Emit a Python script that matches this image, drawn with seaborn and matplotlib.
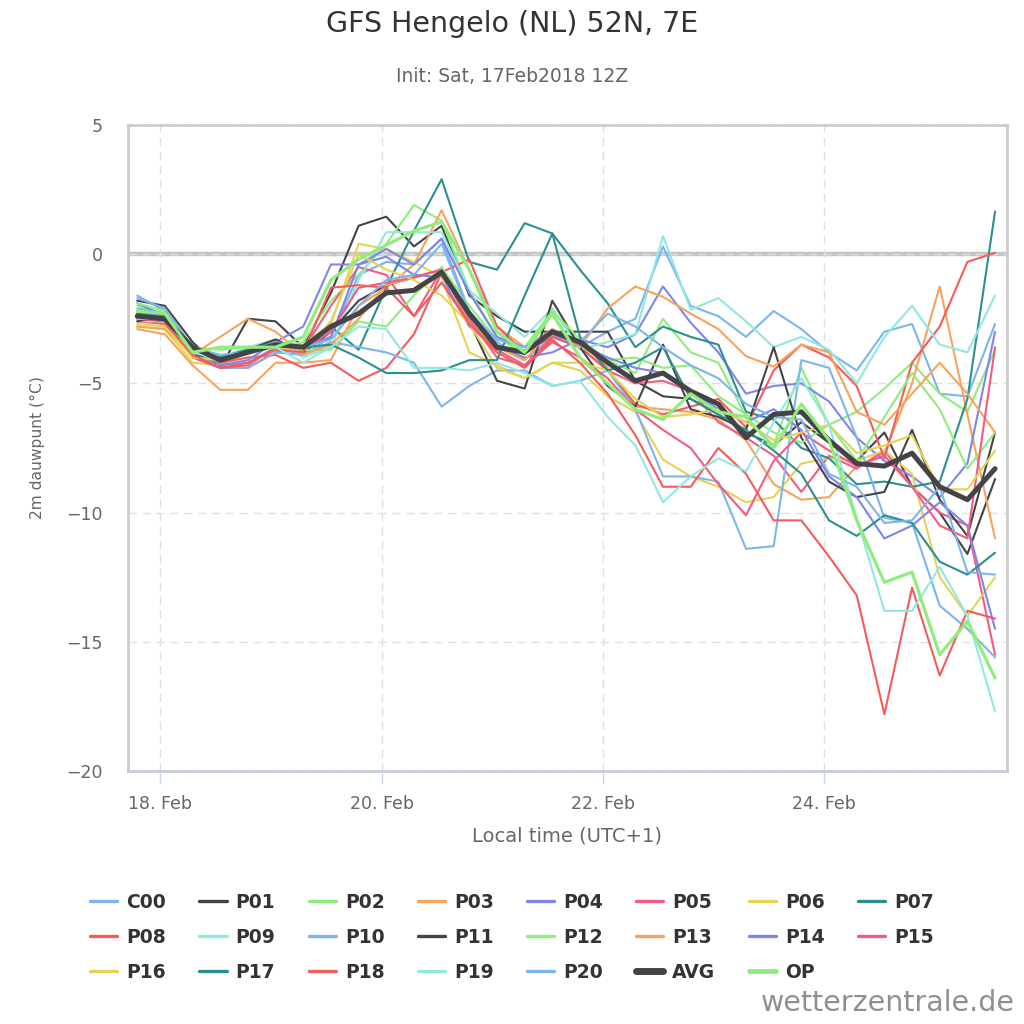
import matplotlib
matplotlib.use("Agg")
import matplotlib.pyplot as plt
import matplotlib.dates as mdates
from matplotlib.lines import Line2D
import pandas as pd
import seaborn as sns

# 6-hourly steps, local time (UTC+1), GFS run of 17 Feb 2018 12Z
times = pd.date_range("2018-02-17 19:00", periods=32, freq="6h")

# 2m dew point (deg C) per ensemble member
c00 = [-1.6, -2.2, -3.8, -4.3, -4.2, -3.6, -3.9, -3.2, -0.8, -0.3, -0.4, 0.6, -2.2, -3.4, -4.1, -3.2,
       -3.6, -3.0, -2.5, 0.3, -2.0, -2.4, -3.2, -2.2, -2.9, -3.8, -4.5, -3.0, -2.7, -5.4, -5.5, -2.7]
p01 = [-1.8, -2.0, -3.4, -4.4, -2.5, -2.6, -3.6, -1.5, 1.1, 1.45, 0.3, 1.1, -1.6, -2.4, -3.0, -3.0,
       -3.0, -3.0, -4.9, -5.5, -5.6, -6.2, -6.9, -7.4, -6.5, -7.3, -8.0, -6.9, -9.0, -10.0, -11.6, -8.7]
p02 = [-2.0, -2.3, -3.7, -3.9, -3.8, -3.6, -3.4, -1.8, -0.8, 0.4, 1.9, 1.3, -1.4, -3.2, -3.9, -2.1,
       -3.6, -4.1, -4.6, -2.5, -3.8, -4.2, -6.3, -7.4, -4.4, -6.6, -6.1, -5.2, -4.2, -5.4, -6.1, -3.7]
p03 = [-2.9, -3.1, -4.3, -5.25, -5.25, -4.2, -4.2, -4.1, -2.0, -1.3, -0.4, 1.7, -0.6, -2.8, -3.6, -2.9,
       -3.4, -4.4, -5.9, -6.0, -6.1, -6.4, -7.2, -8.9, -9.5, -9.4, -8.2, -7.7, -5.0, -1.25, -6.2, -11.0]
p04 = [-1.9, -2.4, -3.7, -4.1, -3.8, -3.4, -2.8, -0.4, -0.4, -0.1, -0.8, -0.9, -2.8, -3.6, -4.0, -3.8,
       -3.3, -3.6, -3.1, -1.25, -2.65, -3.8, -5.4, -5.1, -5.0, -5.7, -7.1, -8.0, -8.6, -9.4, -8.1, -3.0]
p05 = [-2.3, -2.4, -3.9, -4.4, -4.4, -3.8, -3.7, -2.0, -0.5, -0.8, -2.4, -0.6, -2.7, -3.7, -4.3, -3.2,
       -3.6, -4.5, -5.0, -4.9, -5.3, -6.5, -7.1, -7.8, -9.2, -7.8, -8.3, -7.6, -9.0, -10.0, -10.5, -15.5]
p06 = [-2.8, -2.9, -4.2, -4.3, -3.8, -3.6, -3.5, -2.7, 0.4, 0.2, -0.3, -0.9, -3.8, -4.3, -4.8, -4.2,
       -4.5, -5.5, -6.1, -7.95, -8.6, -9.0, -9.6, -9.4, -8.1, -7.9, -8.0, -7.6, -8.5, -12.5, -14.0, -12.5]
p07 = [-2.3, -2.4, -3.8, -4.0, -3.7, -3.4, -3.7, -2.8, -3.7, -1.3, 0.9, 2.9, -0.3, -0.6, 1.2, 0.8,
       -0.6, -1.9, -3.6, -2.8, -3.2, -3.5, -6.1, -6.4, -7.5, -7.9, -8.9, -8.8, -9.0, -8.8, -5.6, 1.65]
p08 = [-2.6, -2.7, -4.0, -4.2, -4.0, -3.9, -4.4, -4.2, -4.9, -4.4, -3.1, -0.7, -0.2, -2.8, -3.8, -3.2,
       -3.6, -4.5, -5.8, -6.2, -5.9, -5.6, -6.7, -4.5, -3.5, -4.0, -5.1, -7.9, -4.2, -2.8, -0.3, 0.05]
p09 = [-2.6, -2.6, -3.9, -4.0, -3.6, -3.3, -4.0, -3.6, -1.0, 0.85, 0.85, 0.85, -1.4, -2.3, -3.2, -2.1,
       -3.7, -3.4, -3.1, 0.7, -2.15, -1.7, -2.6, -3.6, -3.2, -3.7, -5.0, -3.2, -2.0, -3.5, -3.8, -1.6]
p10 = [-2.1, -2.3, -3.8, -4.4, -4.4, -3.8, -3.9, -3.4, -3.6, -3.8, -4.2, -5.9, -5.1, -4.5, -4.5, -5.1,
       -4.9, -4.5, -6.0, -8.6, -8.6, -8.8, -11.4, -11.3, -4.1, -4.4, -7.1, -10.2, -10.4, -13.6, -14.5, -15.6]
p11 = [-2.6, -2.4, -3.9, -4.0, -3.7, -3.3, -3.8, -3.0, -1.8, -1.2, -0.9, -0.6, -2.6, -4.9, -5.2, -1.8,
       -3.6, -5.1, -5.9, -3.5, -6.0, -6.3, -6.8, -3.6, -7.1, -8.8, -9.4, -9.2, -6.8, -9.5, -10.9, -6.9]
p12 = [-1.9, -2.2, -3.6, -3.7, -3.6, -3.6, -3.7, -3.7, -2.6, -2.8, -1.6, -0.5, -2.0, -3.3, -3.6, -2.2,
       -3.3, -4.1, -4.0, -4.4, -4.3, -5.5, -6.2, -6.9, -7.3, -6.6, -8.0, -6.3, -4.6, -6.0, -8.3, -6.9]
p13 = [-2.8, -2.9, -3.9, -3.2, -2.5, -3.0, -3.9, -3.5, -2.5, -1.2, -0.9, -0.6, -2.6, -3.6, -4.1, -2.9,
       -3.6, -2.1, -1.25, -1.65, -2.3, -2.9, -3.95, -4.35, -3.5, -3.8, -6.1, -6.6, -5.4, -4.2, -5.4, -6.9]
p14 = [-2.2, -2.4, -3.6, -4.3, -4.1, -3.4, -3.6, -3.2, -0.4, 0.2, -0.4, 0.6, -1.5, -3.2, -3.6, -3.1,
       -3.5, -4.0, -4.4, -4.6, -5.3, -6.0, -6.5, -6.0, -6.8, -8.6, -9.4, -11.0, -10.5, -9.6, -10.5, -14.5]
p15 = [-2.5, -2.6, -4.0, -4.4, -4.3, -3.6, -3.7, -3.0, -1.3, -1.1, -0.9, -0.6, -2.5, -4.0, -4.3, -3.4,
       -4.0, -4.8, -6.0, -6.8, -7.5, -8.9, -10.1, -8.0, -6.9, -7.6, -8.2, -7.8, -9.0, -10.5, -11.0, -3.6]
p16 = [-2.7, -2.8, -4.0, -4.1, -3.8, -3.6, -3.7, -2.6, 0.0, -0.6, -1.0, -1.6, -2.7, -4.4, -4.8, -4.2,
       -4.2, -4.5, -5.6, -6.3, -6.2, -6.0, -6.5, -7.2, -6.9, -6.6, -7.7, -7.4, -7.0, -9.1, -9.1, -7.6]
p17 = [-2.5, -2.4, -3.7, -4.0, -3.7, -3.4, -3.6, -3.5, -4.0, -4.6, -4.6, -4.5, -4.1, -4.1, -1.6, 0.8,
       -3.2, -4.5, -4.2, -3.6, -5.6, -6.2, -6.8, -7.6, -8.5, -10.3, -10.9, -10.1, -10.4, -11.9, -12.4, -11.55]
p18 = [-2.4, -2.6, -3.9, -4.4, -4.2, -3.7, -3.8, -1.3, -1.2, -1.3, -2.4, -1.1, -2.7, -3.8, -4.4, -3.3,
       -4.2, -5.4, -7.0, -9.0, -9.0, -7.5, -8.5, -10.3, -10.3, -11.7, -13.2, -17.8, -12.9, -16.3, -13.8, -14.1]
p19 = [-2.5, -2.5, -3.8, -4.1, -3.8, -3.6, -4.2, -3.6, -2.8, -2.9, -4.4, -4.4, -4.5, -4.2, -4.6, -5.1,
       -4.9, -6.3, -7.4, -9.6, -8.6, -7.9, -8.4, -6.5, -4.8, -6.6, -10.2, -13.8, -13.8, -12.1, -14.0, -17.7]
p20 = [-1.7, -2.1, -3.6, -3.9, -3.8, -3.4, -3.6, -3.3, -2.0, -1.0, -0.8, 0.4, -2.3, -3.3, -3.6, -3.0,
       -3.4, -2.3, -2.8, -3.6, -4.3, -4.8, -5.8, -6.3, -6.4, -8.5, -9.0, -10.4, -10.3, -9.0, -12.3, -12.4]
avg = [-2.4, -2.5, -3.6, -4.1, -3.8, -3.5, -3.6, -2.8, -2.3, -1.5, -1.4, -0.7, -2.3, -3.6, -3.8, -3.0,
       -3.4, -4.2, -4.9, -4.6, -5.3, -5.8, -7.1, -6.2, -6.1, -7.2, -8.1, -8.2, -7.7, -9.0, -9.5, -8.3]
op = [-2.2, -2.3, -3.8, -3.6, -3.6, -3.6, -3.2, -1.0, -0.2, 0.35, 0.9, 1.25, -0.6, -3.0, -3.8, -2.3,
      -4.0, -5.0, -6.0, -6.4, -5.4, -6.1, -6.3, -7.5, -5.8, -7.2, -10.3, -12.7, -12.3, -15.5, -14.2, -16.4]

names = ["C00", "P01", "P02", "P03", "P04", "P05", "P06", "P07", "P08", "P09", "P10",
         "P11", "P12", "P13", "P14", "P15", "P16", "P17", "P18", "P19", "P20", "AVG", "OP"]
series = [c00, p01, p02, p03, p04, p05, p06, p07, p08, p09, p10,
          p11, p12, p13, p14, p15, p16, p17, p18, p19, p20, avg, op]

# highcharts default colours, cycled over the members
base_colors = ["#7cb5ec", "#434348", "#90ed7d", "#f7a35c", "#8085e9",
               "#f15c80", "#e4d354", "#2b908f", "#f45b5b", "#91e8e1"]
palette = {n: base_colors[i % 10] for i, n in enumerate(names[:21])}
palette["AVG"] = "#434348"
palette["OP"] = "#90ed7d"
widths = {n: 1.5 for n in names}
widths["AVG"] = 3.6
widths["OP"] = 2.3

df = pd.concat([pd.DataFrame({"time": times, "value": vals, "member": name})
                for name, vals in zip(names, series)], ignore_index=True)

sns.set_theme(style="white")
plt.rcParams["font.family"] = ["DejaVu Sans"]

fig = plt.figure(figsize=(10.24, 10.24), dpi=100)
ax = fig.add_axes([0.125, 0.247, 0.858, 0.631])

# zero line under the dashed grid
ax.axhline(0, color="#c4c4c4", lw=3.2, zorder=0.4)

sns.lineplot(data=df, x="time", y="value", hue="member", size="member",
             hue_order=names, size_order=names, palette=palette, sizes=widths,
             estimator=None, legend=False, ax=ax)

ax.set_xlim(pd.Timestamp("2018-02-17 17:00"), pd.Timestamp("2018-02-25 15:30"))
ax.set_ylim(-20, 5)
ax.set_yticks(range(-20, 6, 5))
ax.xaxis.set_major_locator(mdates.DayLocator(bymonthday=[18, 20, 22, 24]))
ax.xaxis.set_major_formatter(mdates.DateFormatter("%d. %b"))

ax.set_axisbelow(True)
ax.grid(True, color="#e0e0e0", lw=1, linestyle=(0, (6, 4)))
for side in ["top", "left", "right"]:
    ax.spines[side].set_color("#cccccc")
    ax.spines[side].set_linewidth(2)
ax.spines["bottom"].set_color("#c6ccd8")
ax.spines["bottom"].set_linewidth(2)

ax.tick_params(axis="x", length=9, width=1, color="#ccd6eb", pad=8,
               labelsize=12.5, labelcolor="#666666", bottom=True)
ax.tick_params(axis="y", length=0, pad=18, labelsize=12.5, labelcolor="#666666")

ax.set_xlabel("Local time (UTC+1)", fontsize=14, color="#666666")
ax.xaxis.set_label_coords(0.5, -0.086)
ax.set_ylabel("2m dauwpunt (°C)", fontsize=11.2, color="#666666")
ax.yaxis.set_label_coords(-0.094, 0.5)

fig.text(0.5, 1 - 24 / 1024, "GFS Hengelo (NL) 52N, 7E", ha="center", va="center",
         fontsize=20.5, color="#333333")
fig.text(0.5, 1 - 77 / 1024, "Init: Sat, 17Feb2018 12Z", ha="center", va="center",
         fontsize=13.5, color="#666666")
fig.text(1015 / 1024, 1 - 1003 / 1024, "wetterzentrale.de", ha="right", va="center",
         fontsize=20.5, color="#8f8f8f")

# legend laid out row-wise like the original (matplotlib fills columns first)
handles = [Line2D([], [], color=palette[n], lw=5 if n == "AVG" else (3.4 if n == "OP" else 2.4))
           for n in names]
order = [j + 8 * r for j in range(8) for r in range(3) if j + 8 * r < len(names)]
fig.legend([handles[k] for k in order], [names[k] for k in order],
           loc="upper center", bbox_to_anchor=(0.5, 1 - 876 / 1024), ncol=8,
           frameon=False, prop={"weight": "bold", "size": 13.5}, labelcolor="#333333",
           handlelength=1.45, handletextpad=0.48, columnspacing=1.77, labelspacing=0.85)

fig.savefig("out.png", dpi=100)
